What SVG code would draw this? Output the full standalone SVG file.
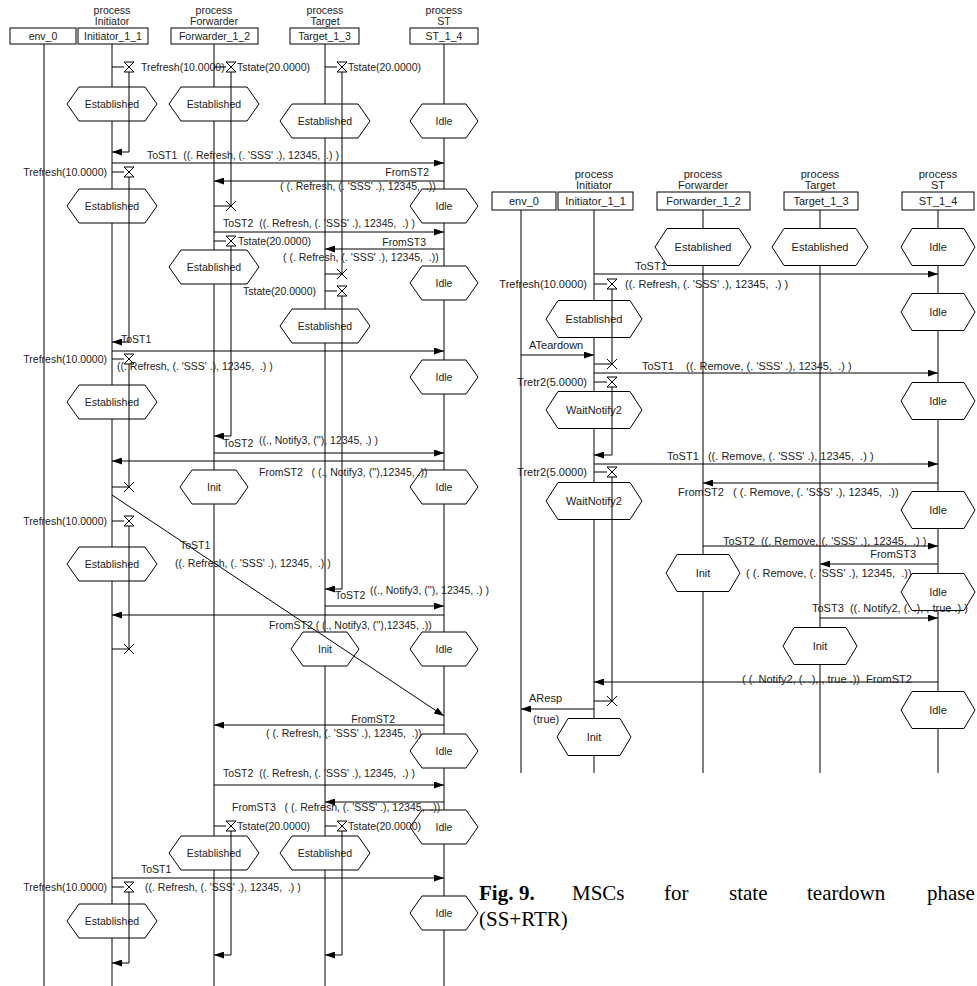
<svg xmlns="http://www.w3.org/2000/svg" xmlns:xlink="http://www.w3.org/1999/xlink" width="977" height="986" viewBox="0 0 977 986">
<style>
.ln{stroke:#000;stroke-width:1;fill:none}
.bx{fill:#fff;stroke:#000;stroke-width:1}
.hx{fill:#fff;stroke:#000;stroke-width:1}
.msg{stroke:#000;stroke-width:1;fill:none;marker-end:url(#ah)}
text{font-family:"Liberation Sans",Arial,sans-serif;font-size:10.5px;fill:#222;white-space:pre}
.r text{font-size:11px}
.c{text-anchor:middle}
.e{text-anchor:end}
text.cap{font-family:"Liberation Serif","Times New Roman",serif;font-size:21px;fill:#000}
</style>
<defs>
<marker id="ah" markerWidth="10" markerHeight="7" refX="10" refY="3.5" orient="auto" markerUnits="userSpaceOnUse"><path d="M0,0L10,3.5L0,7Z" fill="#000"/></marker>
<polygon id="hE" class="hx" points="-45,0 -33,-17 33,-17 45,0 33,17 -33,17"/>
<polygon id="hI" class="hx" points="-34,0 -22,-17 22,-17 34,0 22,17 -22,17"/>
<polygon id="rE" class="hx" points="-48,0 -36,-18.5 36,-18.5 48,0 36,18.5 -36,18.5"/>
<polygon id="rI" class="hx" points="-37,0 -26,-18.5 26,-18.5 37,0 26,18.5 -26,18.5"/>
<path id="hg" class="ln" d="M-5,-5H5L-5,5H5Z"/>
<path id="xx" class="ln" d="M-5,-5L5,5M5,-5L-5,5"/>
</defs>

<!-- LEFT MSC -->
<g id="left">
<g id="L-env0"><line class="ln" x1="44" y1="44" x2="44" y2="986"/><rect class="bx" x="10" y="28" width="66" height="16"/><text class="c" x="43" y="40">env_0</text></g>
<g id="L-initiator"><line class="ln" x1="112" y1="44" x2="112" y2="986"/><text class="c" x="112" y="14">process</text><text class="c" x="112" y="25">Initiator</text><rect class="bx" x="78" y="28" width="70" height="16"/><text class="c" x="113" y="40">Initiator_1_1</text></g>
<g id="L-forwarder"><line class="ln" x1="214" y1="44" x2="214" y2="986"/><text class="c" x="214" y="14">process</text><text class="c" x="214" y="25">Forwarder</text><rect class="bx" x="171" y="28" width="87" height="16"/><text class="c" x="214.5" y="40">Forwarder_1_2</text></g>
<g id="L-target"><line class="ln" x1="325" y1="44" x2="325" y2="986"/><text class="c" x="325" y="14">process</text><text class="c" x="325" y="25">Target</text><rect class="bx" x="290" y="28" width="69" height="16"/><text class="c" x="324.5" y="40">Target_1_3</text></g>
<g id="L-st"><line class="ln" x1="444" y1="44" x2="444" y2="986"/><text class="c" x="444" y="14">process</text><text class="c" x="444" y="25">ST</text><rect class="bx" x="410" y="28" width="68" height="16"/><text class="c" x="444" y="40">ST_1_4</text></g>

<g id="L-ini-s1"><use href="#hE" x="112" y="104"/><text class="c" x="112" y="108">Established</text></g>
<g id="L-ini-s2"><use href="#hE" x="112" y="206"/><text class="c" x="112" y="210">Established</text></g>
<g id="L-ini-s3"><use href="#hE" x="112" y="402"/><text class="c" x="112" y="406">Established</text></g>
<g id="L-ini-s4"><use href="#hE" x="112" y="564"/><text class="c" x="112" y="568">Established</text></g>
<g id="L-ini-s5"><use href="#hE" x="112" y="921"/><text class="c" x="112" y="925">Established</text></g>
<g id="L-fwd-s1"><use href="#hE" x="214" y="104"/><text class="c" x="214" y="108">Established</text></g>
<g id="L-fwd-s2"><use href="#hE" x="214" y="267"/><text class="c" x="214" y="271">Established</text></g>
<g id="L-fwd-s3"><use href="#hI" x="214" y="487"/><text class="c" x="214" y="491">Init</text></g>
<g id="L-fwd-s4"><use href="#hE" x="214" y="853"/><text class="c" x="214" y="857">Established</text></g>
<g id="L-tgt-s1"><use href="#hE" x="325" y="121"/><text class="c" x="325" y="125">Established</text></g>
<g id="L-tgt-s2"><use href="#hE" x="325" y="326"/><text class="c" x="325" y="330">Established</text></g>
<g id="L-tgt-s3"><use href="#hI" x="325" y="649"/><text class="c" x="325" y="653">Init</text></g>
<g id="L-tgt-s4"><use href="#hE" x="325" y="853"/><text class="c" x="325" y="857">Established</text></g>
<g id="L-st-s1"><use href="#hI" x="444" y="121"/><text class="c" x="444" y="125">Idle</text></g>
<g id="L-st-s2"><use href="#hI" x="444" y="206"/><text class="c" x="444" y="210">Idle</text></g>
<g id="L-st-s3"><use href="#hI" x="444" y="283"/><text class="c" x="444" y="287">Idle</text></g>
<g id="L-st-s4"><use href="#hI" x="444" y="377"/><text class="c" x="444" y="381">Idle</text></g>
<g id="L-st-s5"><use href="#hI" x="444" y="487"/><text class="c" x="444" y="491">Idle</text></g>
<g id="L-st-s6"><use href="#hI" x="444" y="649"/><text class="c" x="444" y="653">Idle</text></g>
<g id="L-st-s7"><use href="#hI" x="444" y="751"/><text class="c" x="444" y="755">Idle</text></g>
<g id="L-st-s8"><use href="#hI" x="444" y="827"/><text class="c" x="444" y="831">Idle</text></g>
<g id="L-st-s9"><use href="#hI" x="444" y="913"/><text class="c" x="444" y="917">Idle</text></g>

<g id="L-timers">
<path class="ln" d="M112,67H124M129,72V152"/><use href="#hg" x="129" y="67"/><line class="msg" x1="129" y1="152" x2="112" y2="152"/><text x="141" y="71">Trefresh(10.0000)</text>
<path class="ln" d="M112,172H124M129,177V342"/><use href="#hg" x="129" y="172"/><line class="msg" x1="129" y1="342" x2="112" y2="342"/><text class="e" x="107" y="176">Trefresh(10.0000)</text>
<path class="ln" d="M112,359H124M129,364V487M112,487H129"/><use href="#hg" x="129" y="359"/><use href="#xx" x="129" y="487"/><text class="e" x="107" y="363">Trefresh(10.0000)</text>
<path class="ln" d="M112,521H124M129,526V649M112,649H129"/><use href="#hg" x="129" y="521"/><use href="#xx" x="129" y="649"/><text class="e" x="107" y="525">Trefresh(10.0000)</text>
<path class="ln" d="M112,887H124M129,892V963"/><use href="#hg" x="129" y="887"/><line class="msg" x1="129" y1="963" x2="112" y2="963"/><text class="e" x="107" y="891">Trefresh(10.0000)</text>

<path class="ln" d="M214,67H226M231,72V206M214,206H231"/><use href="#hg" x="231" y="67"/><use href="#xx" x="231" y="206"/><text x="237" y="71">Tstate(20.0000)</text>
<path class="ln" d="M214,241H226M231,246V436"/><use href="#hg" x="231" y="241"/><line class="msg" x1="231" y1="436" x2="214" y2="436"/><text x="238" y="245">Tstate(20.0000)</text>
<path class="ln" d="M214,826H226M231,831V955"/><use href="#hg" x="231" y="826"/><line class="msg" x1="231" y1="955" x2="214" y2="955"/><text x="237" y="830">Tstate(20.0000)</text>

<path class="ln" d="M325,67H337M342,72V274M325,274H342"/><use href="#hg" x="342" y="67"/><use href="#xx" x="342" y="274"/><text x="348" y="71">Tstate(20.0000)</text>
<path class="ln" d="M325,291H337M342,296V589"/><use href="#hg" x="342" y="291"/><line class="msg" x1="342" y1="589" x2="325" y2="589"/><text class="e" x="316" y="295">Tstate(20.0000)</text>
<path class="ln" d="M325,826H337M342,831V955"/><use href="#hg" x="342" y="826"/><line class="msg" x1="342" y1="955" x2="325" y2="955"/><text x="348" y="830">Tstate(20.0000)</text>
</g>

<g id="L-connectors">
<line class="msg" x1="112" y1="163" x2="444" y2="163"/><text x="147" y="159">ToST1  ((. Refresh, (. 'SSS' .), 12345,  .) )</text>
<line class="msg" x1="444" y1="181" x2="214" y2="181"/><text class="e" x="429" y="176">FromST2</text><text x="280" y="190">( (. Refresh, (. 'SSS' .), 12345,  .))</text>
<line class="msg" x1="214" y1="232" x2="444" y2="232"/><text x="223" y="227">ToST2  ((. Refresh, (. 'SSS' .), 12345,  .) )</text>
<line class="msg" x1="444" y1="249" x2="325" y2="249"/><text class="e" x="426" y="246">FromST3</text><text x="283" y="261">( (. Refresh, (. 'SSS' .), 12345,  .))</text>
<line class="msg" x1="112" y1="351" x2="444" y2="351"/><text x="121" y="343">ToST1</text><text x="117" y="370">((. Refresh, (. 'SSS' .), 12345,  .) )</text>
<line class="msg" x1="214" y1="453" x2="444" y2="453"/><text x="223" y="447">ToST2</text><text x="259" y="444">((., Notify3, (''), 12345, .) )</text>
<line class="msg" x1="444" y1="461" x2="112" y2="461"/><text x="259" y="476">FromST2   ( (., Notify3, (''),12345, .))</text>
<line class="msg" x1="112" y1="495" x2="444" y2="716"/><text x="180" y="549">ToST1</text><text x="175" y="567">((. Refresh, (. 'SSS' .), 12345,  .) )</text>
<line class="msg" x1="325" y1="606" x2="444" y2="606"/><text x="335" y="599">ToST2</text><text x="370" y="594">((., Notify3, (''), 12345, .) )</text>
<line class="msg" x1="444" y1="615" x2="112" y2="615"/><text x="269" y="629">FromST2 ( (., Notify3, (''),12345, .))</text>
<line class="msg" x1="444" y1="725" x2="214" y2="725"/><text class="e" x="395" y="723">FromST2</text><text x="266" y="737">( (. Refresh, (. 'SSS' .), 12345,  .))</text>
<line class="msg" x1="214" y1="785" x2="444" y2="785"/><text x="223" y="777">ToST2  ((. Refresh, (. 'SSS' .), 12345,  .) )</text>
<line class="msg" x1="444" y1="802" x2="325" y2="802"/><text x="232" y="811">FromST3   ( (. Refresh, (. 'SSS' .), 12345,  .))</text>
<line class="msg" x1="112" y1="878" x2="444" y2="878"/><text x="141" y="873">ToST1</text><text x="145" y="891">((. Refresh, (. 'SSS' .), 12345,  .) )</text>
</g>
</g>

<!-- RIGHT MSC -->
<g id="right" class="r">
<g id="R-env0"><line class="ln" x1="521" y1="210" x2="521" y2="773"/><rect class="bx" x="492" y="192" width="64" height="18"/><text class="c" x="524" y="205">env_0</text></g>
<g id="R-initiator"><line class="ln" x1="594" y1="210" x2="594" y2="773"/><text class="c" x="594" y="178">process</text><text class="c" x="594" y="189">Initiator</text><rect class="bx" x="558" y="192" width="75" height="18"/><text class="c" x="595.5" y="205">Initiator_1_1</text></g>
<g id="R-forwarder"><line class="ln" x1="703" y1="210" x2="703" y2="773"/><text class="c" x="703" y="178">process</text><text class="c" x="703" y="189">Forwarder</text><rect class="bx" x="657" y="192" width="93" height="18"/><text class="c" x="703.5" y="205">Forwarder_1_2</text></g>
<g id="R-target"><line class="ln" x1="820" y1="210" x2="820" y2="773"/><text class="c" x="820" y="178">process</text><text class="c" x="820" y="189">Target</text><rect class="bx" x="784" y="192" width="74" height="18"/><text class="c" x="821" y="205">Target_1_3</text></g>
<g id="R-st"><line class="ln" x1="938" y1="210" x2="938" y2="773"/><text class="c" x="938" y="178">process</text><text class="c" x="938" y="189">ST</text><rect class="bx" x="902" y="192" width="72" height="18"/><text class="c" x="938" y="205">ST_1_4</text></g>

<g id="R-fwd-s1"><use href="#rE" x="703" y="247"/><text class="c" x="703" y="251">Established</text></g>
<g id="R-fwd-s2"><use href="#rI" x="703" y="573"/><text class="c" x="703" y="577">Init</text></g>
<g id="R-tgt-s1"><use href="#rE" x="820" y="247"/><text class="c" x="820" y="251">Established</text></g>
<g id="R-tgt-s2"><use href="#rI" x="820" y="646"/><text class="c" x="820" y="650">Init</text></g>
<g id="R-st-s1"><use href="#rI" x="938" y="247"/><text class="c" x="938" y="251">Idle</text></g>
<g id="R-st-s2"><use href="#rI" x="938" y="312"/><text class="c" x="938" y="316">Idle</text></g>
<g id="R-st-s3"><use href="#rI" x="938" y="401"/><text class="c" x="938" y="405">Idle</text></g>
<g id="R-st-s4"><use href="#rI" x="938" y="510"/><text class="c" x="938" y="514">Idle</text></g>
<g id="R-st-s5"><use href="#rI" x="938" y="592"/><text class="c" x="938" y="596">Idle</text></g>
<g id="R-st-s6"><use href="#rI" x="938" y="710"/><text class="c" x="938" y="714">Idle</text></g>
<g id="R-ini-s1"><use href="#rE" x="594" y="319"/><text class="c" x="594" y="323">Established</text></g>
<g id="R-ini-s2"><use href="#rE" x="594" y="410"/><text class="c" x="594" y="414">WaitNotify2</text></g>
<g id="R-ini-s3"><use href="#rE" x="594" y="501"/><text class="c" x="594" y="505">WaitNotify2</text></g>
<g id="R-ini-s4"><use href="#rI" x="594" y="737"/><text class="c" x="594" y="741">Init</text></g>

<g id="R-timers">
<path class="ln" d="M594,284H607M612,289V364M594,364H612"/><use href="#hg" x="612" y="284"/><use href="#xx" x="612" y="364"/><text class="e" x="587" y="288">Trefresh(10.0000)</text>
<path class="ln" d="M594,382H607M612,387V455"/><use href="#hg" x="612" y="382"/><line class="msg" x1="612" y1="455" x2="594" y2="455"/><text class="e" x="587" y="386">Tretr2(5.0000)</text>
<path class="ln" d="M594,472H607M612,477V701M594,701H612"/><use href="#hg" x="612" y="472"/><use href="#xx" x="612" y="701"/><text class="e" x="587" y="476">Tretr2(5.0000)</text>
</g>

<g id="R-connectors">
<line class="msg" x1="594" y1="274" x2="938" y2="274"/><text x="635" y="270">ToST1</text><text x="625" y="288">((. Refresh, (. 'SSS' .), 12345,  .) )</text>
<line class="msg" x1="521" y1="355" x2="594" y2="355"/><text x="529" y="349">ATeardown</text>
<line class="msg" x1="594" y1="373" x2="938" y2="373"/><text x="642" y="370">ToST1    ((. Remove, (. 'SSS' .), 12345,  .) )</text>
<line class="msg" x1="594" y1="464" x2="938" y2="464"/><text x="667" y="460">ToST1   ((. Remove, (. 'SSS' .), 12345,  .) )</text>
<line class="msg" x1="938" y1="483" x2="703" y2="483"/><text x="678" y="496">FromST2   ( (. Remove, (. 'SSS' .), 12345,  .))</text>
<line class="msg" x1="703" y1="546" x2="938" y2="546"/><text x="723" y="545">ToST2  ((. Remove, (. 'SSS' .), 12345,  .) )</text>
<line class="msg" x1="938" y1="564" x2="820" y2="564"/><text class="e" x="916" y="558">FromST3</text><text x="746" y="577">( (. Remove, (. 'SSS' .), 12345,  .))</text>
<line class="msg" x1="820" y1="618" x2="938" y2="618"/><text x="812" y="612">ToST3  ((. Notify2, (. .), , true .) )</text>
<line class="msg" x1="938" y1="682" x2="594" y2="682"/><text x="742" y="683">( (. Notify2, (. .), , true .))  FromST2</text>
<line class="msg" x1="594" y1="709" x2="521" y2="709"/><text x="529" y="702">AResp</text><text x="533" y="723">(true)</text>
</g>
</g>

<g id="caption">
<text class="cap" x="479" y="900"><tspan font-weight="bold">Fig.</tspan><tspan x="519" font-weight="bold">9.</tspan><tspan x="572">MSCs</tspan><tspan x="664">for</tspan><tspan x="729">state</tspan><tspan x="807">teardown</tspan><tspan x="927">phase</tspan></text>
<text class="cap" x="479" y="926">(SS+RTR)</text>
</g>
</svg>
